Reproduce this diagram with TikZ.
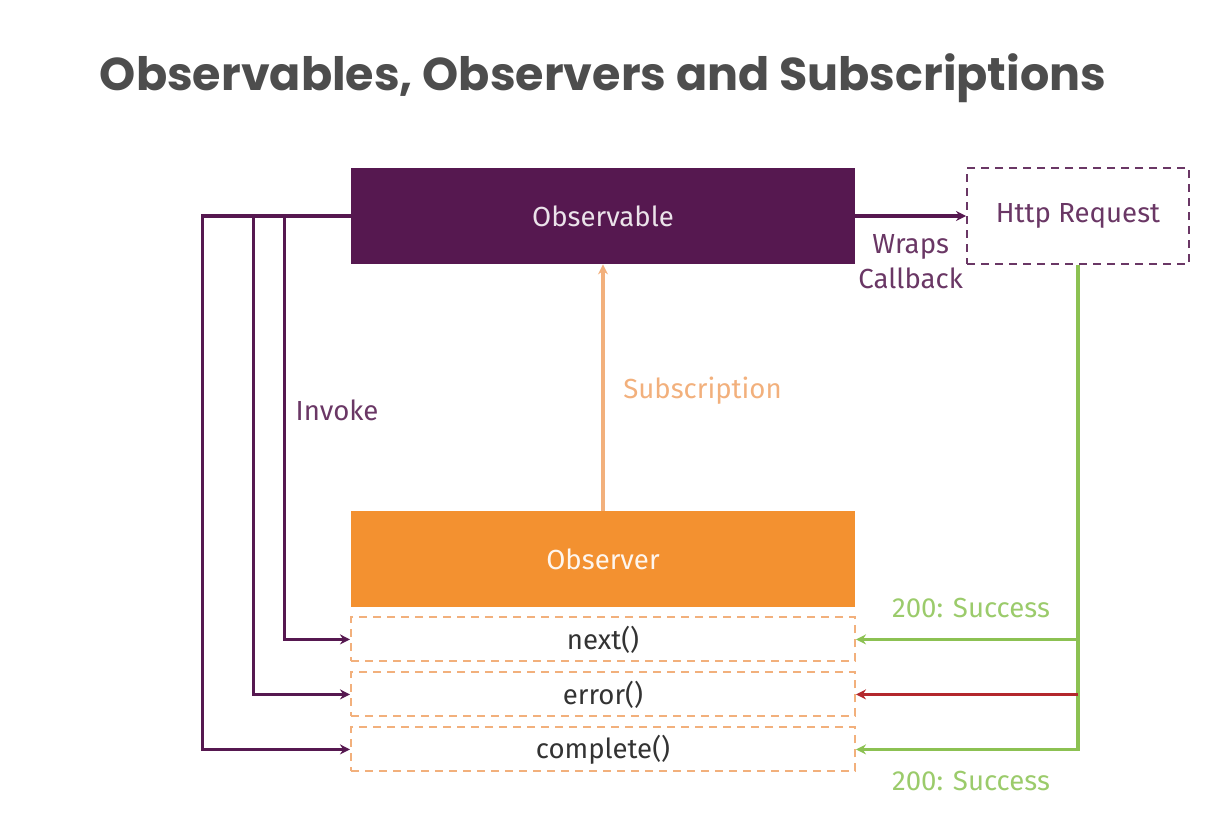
\documentclass[tikz,border=0pt]{standalone}
\usepackage{fontspec}
\setmainfont{Fira Sans}
\newfontfamily\titlefont{Poppins}
\usepackage{tikz}
\usetikzlibrary{positioning,arrows.meta}

\definecolor{obspurple}{HTML}{561850}
\definecolor{labelpurple}{HTML}{6A3765}
\definecolor{obsorange}{HTML}{F39130}
\definecolor{suborange}{HTML}{F2B07C}
\definecolor{okgreen}{HTML}{8CC152}
\definecolor{okgreentext}{HTML}{9BCB6B}
\definecolor{errred}{HTML}{B3282D}
\definecolor{titlegray}{HTML}{4D4D4D}

\tikzstyle{observable} = [rectangle, minimum width=252pt, minimum height=48pt, inner sep=0pt, text centered, fill=obspurple, text=white!88!obspurple]
\tikzstyle{observer} = [rectangle, minimum width=252pt, minimum height=48pt, inner sep=0pt, text centered, fill=obsorange, text=white!92!obsorange]
\tikzstyle{request} = [rectangle, minimum width=111pt, minimum height=48pt, inner sep=0pt, text centered, draw=labelpurple, line width=1pt, dash pattern=on 4pt off 3pt, text=labelpurple]
\tikzstyle{method} = [rectangle, minimum width=252pt, minimum height=22pt, inner sep=0pt, text centered, draw=suborange, line width=1pt, dash pattern=on 4pt off 3pt, text=black!80]
\tikzstyle{connector} = [line width=1.6pt, -{Stealth[length=5pt,width=5pt]}]

\begin{document}
\begin{tikzpicture}[x=0.5pt, y=-0.5pt, node distance=4.5pt, every node/.style={font=\fontsize{13.8}{17.5}\selectfont}]
	\useasboundingbox (0,0) rectangle (1220,830);

	\node (title) at (603,78) [text=titlegray, font=\titlefont\bfseries\fontsize{23}{28}\selectfont] {Observables, Observers and Subscriptions};

	\node (observable) [observable] at (603,216) {Observable};
	\node (request) [request] at (1078,216) {Http Request};
	\node (observer) [observer] at (603,559) {Observer};
		\node (next) [method, below=of observer] {next()};
		\node (error) [method, below=of next] {error()};
		\node (complete) [method, below=of error] {complete()};

	\draw [connector, obspurple] (observable.east) -- (request.west) node [midway, below=5pt, align=center, text=labelpurple] {Wraps\\Callback};
	\draw [connector, suborange] (observer.north) -- (observable.south) node [midway, right=6pt, yshift=-1.5pt, text=suborange] {Subscription};

	% invoke lines
	\draw [connector, obspurple] (observable.west) -- ++(-33pt,0) |- (next.west);
	\draw [connector, obspurple] (observable.west) -- ++(-48.5pt,0) |- (error.west);
	\draw [connector, obspurple] (observable.west) -- ++(-74pt,0) |- (complete.west);
	\node (invoke) at (337,410) [text=labelpurple] {Invoke};

	% responses
	\draw [connector, okgreen] (request.south) |- (next.east);
	\draw [connector, okgreen] (request.south) |- (complete.east);
	\draw [connector, errred] (request.south |- error.east) -- (error.east);
	\node (success) at (971,608) [text=okgreentext] {200: Success};
	\node (donesuccess) at (971,781) [text=okgreentext] {200: Success};

\end{tikzpicture}
\end{document}
